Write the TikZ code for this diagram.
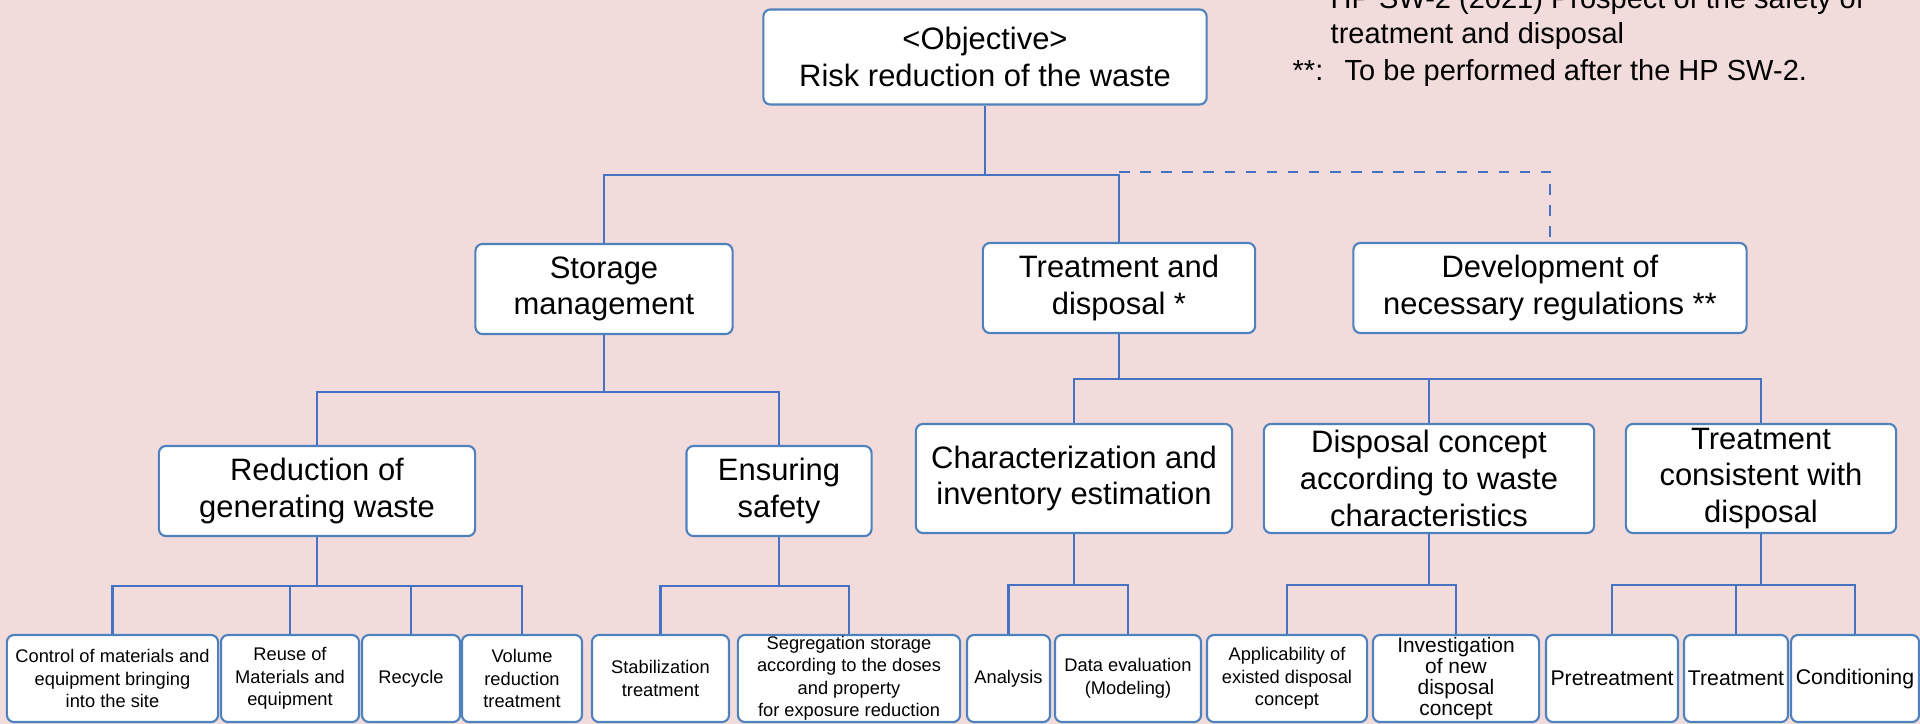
\documentclass[tikz,border=0pt]{standalone}
\usepackage{fontspec}
\setmainfont{Liberation Sans}
\definecolor{bgpink}{RGB}{242,220,219}
\definecolor{boxblue}{RGB}{79,129,189}
\definecolor{lineblue}{RGB}{68,114,196}
\begin{document}
\begin{tikzpicture}[x=0.01cm,y=-0.01cm]
\tikzset{box/.style = {draw=boxblue, fill=white, line width=0.6pt, rounded corners=2pt, align=center, inner sep=0pt}}
\tikzset{big/.style = {box, minimum height=0.9cm, font=\fontsize{8.8}{10.4}\selectfont}}
\tikzset{leaf/.style = {box, minimum height=0.87cm, font=\fontsize{5.2}{6.4}\selectfont}}
\tikzset{conn/.style = {draw=lineblue, line width=0.6pt}}
\tikzset{note/.style = {anchor=base west, inner sep=0pt, font=\fontsize{8.25}{10}\selectfont}}
\useasboundingbox (0,0) rectangle (1920,724);
\clip (0,0) rectangle (1920,724);
\fill[bgpink] (0,0) rectangle (1920,724);
% notes
\node[note] (hp) at (1330,8) {HP SW-2 (2021) Prospect of the safety of};
\node[note] (hp2) at (1330,43) {treatment and disposal};
\node[note] (star) at (1292,80) {**:};
\node[note] (after) at (1344,80) {To be performed after the HP SW-2.};
% boxes
\node[big, minimum width=4.43cm, minimum height=0.95cm] (obj) at (985,57) {<Objective>\\Risk reduction of the waste};
\node[big, minimum width=2.57cm] (stor) at (604,289) {Storage\\management};
\node[big, minimum width=2.72cm] (treat) at (1119,288) {Treatment and\\disposal *};
\node[big, minimum width=3.93cm] (dev) at (1550,288) {Development of\\necessary regulations **};
\node[big, minimum width=3.16cm] (red) at (317,491) {Reduction of\\generating waste};
\node[big, minimum width=1.85cm] (safe) at (779,491) {Ensuring\\safety};
\node[big, minimum width=3.16cm, minimum height=1.09cm] (char) at (1074,478.5) {Characterization and\\inventory estimation};
\node[big, minimum width=3.30cm, minimum height=1.09cm] (disp) at (1429,478.5) {Disposal concept\\according to waste\\characteristics};
\node[big, minimum width=2.70cm, minimum height=1.09cm] (tcons) at (1761,478.5) {Treatment\\consistent with\\disposal};
% leaves
\node[leaf, minimum width=2.11cm] (ctrl) at (112.5,678.5) {Control of materials and\\equipment bringing\\into the site};
\node[leaf, minimum width=1.38cm] (reuse) at (290,678.5) {Reuse of\\Materials and\\equipment};
\node[leaf, minimum width=0.98cm] (recyc) at (411,678.5) {Recycle};
\node[leaf, minimum width=1.20cm] (vol) at (522,678.5) {Volume\\reduction\\treatment};
\node[leaf, minimum width=1.37cm] (stab) at (660.5,678.5) {Stabilization\\treatment};
\node[leaf, minimum width=2.22cm] (seg) at (849,678.5) {Segregation storage\\according to the doses\\and property\\for exposure reduction};
\node[leaf, minimum width=0.83cm] (anal) at (1008.5,678.5) {Analysis};
\node[leaf, minimum width=1.46cm] (dataev) at (1128,678.5) {Data evaluation\\(Modeling)};
\node[leaf, minimum width=1.60cm] (appl) at (1287,678.5) {Applicability of\\existed disposal\\concept};
\node[leaf, minimum width=1.66cm, font=\fontsize{5.95}{5.9}\selectfont] (inv) at (1456,678.5) {Investigation\\of new\\disposal\\concept};
\node[leaf, minimum width=1.32cm, font=\fontsize{6.05}{7}\selectfont] (pre) at (1612,678.5) {Pretreatment};
\node[leaf, minimum width=1.04cm, font=\fontsize{6.05}{7}\selectfont] (trt) at (1736,678.5) {Treatment};
\node[leaf, minimum width=1.28cm, font=\fontsize{6.05}{7}\selectfont] (cond) at (1855,678.5) {Conditioning};
% connectors
\draw[conn] (obj.south) -- ++(0,69) -| (stor.north);
\draw[conn] (obj.south) -- ++(0,69) -| (treat.north);
\draw[conn, dashed] (treat.north) ++(0,-70) -| (dev.north);

\draw[conn] (stor.south) -- ++(0,57) -| (red.north);
\draw[conn] (stor.south) -- ++(0,57) -| (safe.north);

\draw[conn] (treat.south) -- ++(0,45) -| (char.north);
\draw[conn] (treat.south) -- ++(0,45) -| (disp.north);
\draw[conn] (treat.south) -- ++(0,45) -| (tcons.north);

\draw[conn] (red.south) -- ++(0,49) -| (ctrl.north);
\draw[conn] (red.south) -- ++(0,49) -| (reuse.north);
\draw[conn] (red.south) -- ++(0,49) -| (recyc.north);
\draw[conn] (red.south) -- ++(0,49) -| (vol.north);

\draw[conn] (safe.south) -- ++(0,49) -| (stab.north);
\draw[conn] (safe.south) -- ++(0,49) -| (seg.north);

\draw[conn] (char.south) -- ++(0,51) -| (anal.north);
\draw[conn] (char.south) -- ++(0,51) -| (dataev.north);

\draw[conn] (disp.south) -- ++(0,51) -| (appl.north);
\draw[conn] (disp.south) -- ++(0,51) -| (inv.north);

\draw[conn] (tcons.south) -- ++(0,51) -| (pre.north);
\draw[conn] (tcons.south) -- ++(0,51) -| (trt.north);
\draw[conn] (tcons.south) -- ++(0,51) -| (cond.north);
\end{tikzpicture}
\end{document}
